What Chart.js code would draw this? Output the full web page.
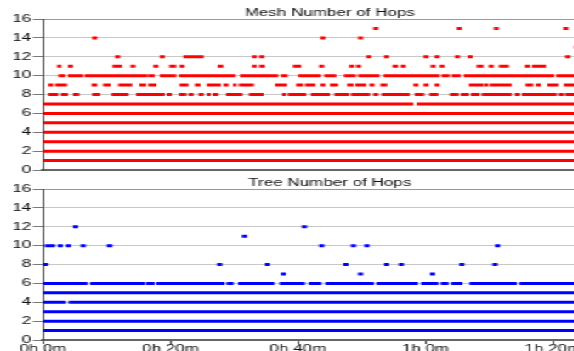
<!DOCTYPE html>
<html>
<head>
<meta charset="utf-8">
<script src="https://cdn.jsdelivr.net/npm/chart.js@4/dist/chart.umd.min.js"></script>
<style>
html, body { margin: 0; padding: 0; background: #fff; overflow: hidden; width: 574px; height: 351px; }
/* the original picture is stretched sideways, so draw narrow and scale */
#stage { position: absolute; left: 0; top: 0; width: 388px; height: 354px; transform: scaleX(1.7); transform-origin: 0 0; }
.panel { position: absolute; left: 0; width: 388px; }
#meshBox { top: 0; height: 178px; }
#treeBox { top: 170px; height: 184px; }
</style>
</head>
<body>
<div id="stage">
  <div class="panel" id="meshBox"><canvas id="mesh"></canvas></div>
  <div class="panel" id="treeBox"><canvas id="tree"></canvas></div>
</div>
<script>
// time axis in minutes, hop counts on y
const xTickMinutes = [0, 20, 40, 60, 80];
const yTickValues = [0, 2, 4, 6, 8, 10, 12, 14, 16];

// runs of samples [start, end] in minutes for each hop count
const fullRun = [[0, 84]];

const mesh7 = [[0, 58.1], [58.6, 84]];
const mesh8 = [[0.8, 2.4], [2.8, 3.9], [4.7, 5.7], [7.7, 9], [10.7, 13.4], [14.6, 19.1], [19.4, 20.2],
  [21.3, 22.5], [22.8, 23.6], [24.4, 25.2], [25.7, 26.3], [26.6, 27.5], [28.7, 31.3], [32.3, 34.6],
  [37.5, 38.1], [38.4, 41.3], [42, 45], [45.7, 48], [48.3, 51.3], [51.8, 52.6], [53.1, 57.5],
  [58.3, 59.8], [60.6, 62], [63.8, 65.2], [65.5, 66.8], [67.1, 68.5], [68.8, 73.5], [74, 74.8],
  [75.1, 80.6], [80.9, 81.7], [81.9, 84]];
const mesh9 = [[0.8, 1.6], [1.9, 3.8], [7.6, 8.5], [9.4, 10.6], [11.8, 14], [15.1, 16.2], [16.5, 17.8],
  [21.4, 22.8], [23.8, 24.7], [25.7, 27.9], [28.3, 29.1], [29.8, 30.4], [30.7, 33.1], [36.4, 38.3],
  [39.7, 40.8], [41.1, 42.7], [43.5, 44.3], [45, 46.3], [47.7, 48.7], [49, 50.7], [51.2, 52],
  [52.9, 54], [58.1, 58.9], [59.7, 60.5], [61.4, 62.2], [66.8, 69], [69.1, 69.9], [70.1, 73.5],
  [75.7, 76.9], [77.3, 78.1], [79.1, 80.9], [81.7, 84]];
const mesh10 = [[2.4, 3.5], [3.9, 6.3], [6.5, 16.4], [16.5, 17.5], [18.3, 20.9], [21.3, 30.2],
  [30.9, 36.9], [37.3, 38.4], [40, 43.6], [44.1, 46], [47.2, 49.1], [49.4, 52.8], [53.4, 62.2],
  [62.5, 63.8], [64.1, 65.5], [66, 80.2], [80.5, 84]];
const mesh11 = [[2.2, 2.9], [3.9, 4.7], [10.9, 12.4], [13.7, 14.5], [17.3, 18.1], [19.8, 20.9],
  [21.4, 22.2], [27.4, 28.3], [32.8, 33.5], [33.9, 34.8], [39.2, 40.5], [43.3, 44.1], [48, 48.8],
  [49.1, 49.9], [54.8, 55.7], [56.1, 56.9], [60.8, 61.6], [62.2, 63], [68, 69.1], [69.9, 70.7],
  [71.5, 73.1], [75.6, 76.4], [76.7, 78.9]];
const mesh12 = [[11.3, 12.1], [18.3, 19.1], [22, 25.2], [32.8, 33.5], [33.9, 34.7], [50.7, 51.5],
  [53.5, 54.3], [59.7, 60.5], [61.4, 62.2], [64.6, 65.4], [66.6, 67.4], [81.9, 82.7]];
const mesh13 = [[83.3, 84]];
const mesh14 = [[7.7, 8.5], [43.5, 44.3], [49.4, 50.2]];
const mesh15 = [[51.8, 52.6], [64.9, 65.7], [70.7, 71.5], [81.6, 82.4]];

const tree4 = [[0, 3.6], [4, 84]];
const tree6 = [[0, 7], [7.4, 16], [16.2, 17.5], [17.8, 28.5], [28.8, 29.9], [30.6, 36.3], [37.1, 41.1],
  [41.7, 43.7], [44.3, 51.9], [52.3, 58.8], [59.3, 62], [62.4, 63.6], [64, 65.8], [66.9, 74.3], [74.7, 84]];
const tree7 = [[37.3, 38.1], [49.4, 50.2], [60.7, 61.5]];
const tree8 = [[0, 0.8], [27.3, 28.1], [34.8, 35.6], [47.1, 47.9], [53.5, 54.3], [55.8, 56.6],
  [65.3, 66.1], [70.5, 71.3]];
const tree10 = [[0.3, 1.9], [2.3, 3.1], [3.6, 4.4], [5.9, 6.7], [10, 10.9], [43.3, 44.1], [48.3, 49.1],
  [50.4, 51.2], [70.9, 71.7]];
const tree11 = [[31.2, 32]];
const tree12 = [[4.7, 5.5], [40.6, 41.4]];

const meshHops = [1, 2, 3, 4, 5, 6, 7, 8, 9, 10, 11, 12, 13, 14, 15];
const meshRuns = [fullRun, fullRun, fullRun, fullRun, fullRun, fullRun, mesh7, mesh8, mesh9,
  mesh10, mesh11, mesh12, mesh13, mesh14, mesh15];
const treeHops = [1, 2, 3, 4, 5, 6, 7, 8, 10, 11, 12];
const treeRuns = [fullRun, fullRun, fullRun, tree4, fullRun, tree6, tree7, tree8, tree10, tree11, tree12];

function toPoints(hops, runs) {
  const pts = [];
  hops.forEach((h, i) => {
    runs[i].forEach(r => {
      pts.push({ x: r[0], y: h }, { x: r[1], y: h }, { x: r[1], y: null });
    });
  });
  return pts;
}

function fmtTime(v) {
  return Math.floor(v / 60) + 'h ' + (v % 60) + 'm';
}

Chart.defaults.font.family = "'Liberation Sans', Arial, sans-serif";
Chart.defaults.font.size = 10;
Chart.defaults.color = '#111';

function makePanel(id, title, color, points, showTime) {
  return new Chart(document.getElementById(id), {
    type: 'line',
    data: {
      datasets: [{
        data: points,
        borderColor: color,
        borderWidth: 3,
        borderCapStyle: 'butt',
        pointRadius: 0,
        tension: 0,
        spanGaps: false
      }]
    },
    options: {
      responsive: true,
      maintainAspectRatio: false,
      animation: false,
      layout: { padding: 0 },
      plugins: {
        legend: { display: false },
        tooltip: { enabled: false },
        title: {
          display: true,
          text: title,
          color: '#111',
          font: { size: 10, weight: 'normal' },
          padding: { top: 7, bottom: 0 }
        }
      },
      scales: {
        x: {
          type: 'linear',
          min: 0,
          max: 90,
          afterBuildTicks: s => { s.ticks = xTickMinutes.map(v => ({ value: v })); },
          afterFit: s => { s.height = showTime ? 14 : 8; },
          grid: showTime
            ? { drawOnChartArea: false, drawTicks: true, tickLength: 4, color: '#444' }
            : { display: false },
          border: { display: true, color: '#666', width: 2 },
          ticks: {
            display: showTime,
            padding: 0,
            maxRotation: 0,
            autoSkip: false,
            font: { size: 10, lineHeight: 1 },
            callback: v => fmtTime(v)
          }
        },
        y: {
          min: 0,
          max: 16,
          afterBuildTicks: s => { s.ticks = yTickValues.map(v => ({ value: v })); },
          afterFit: s => { s.width = 25.3; },
          grid: {
            color: c => (c.tick && c.tick.value === 16) ? '#999' : '#c8c8c8',
            tickColor: '#777',
            tickLength: 6
          },
          border: { display: true, color: '#444', width: 1 },
          ticks: { padding: 1, font: { size: 10 } }
        },
        // empty right margin so the title is centred on the whole panel
        yPad: {
          type: 'linear',
          position: 'right',
          min: 0,
          max: 1,
          afterFit: s => { s.width = 25.2; },
          grid: { display: false },
          border: { display: false },
          ticks: { display: false }
        }
      }
    }
  });
}

makePanel('mesh', 'Mesh Number of Hops', 'rgb(255,0,0)', toPoints(meshHops, meshRuns), false);
makePanel('tree', 'Tree Number of Hops', 'rgb(0,0,255)', toPoints(treeHops, treeRuns), true);
</script>
</body>
</html>
